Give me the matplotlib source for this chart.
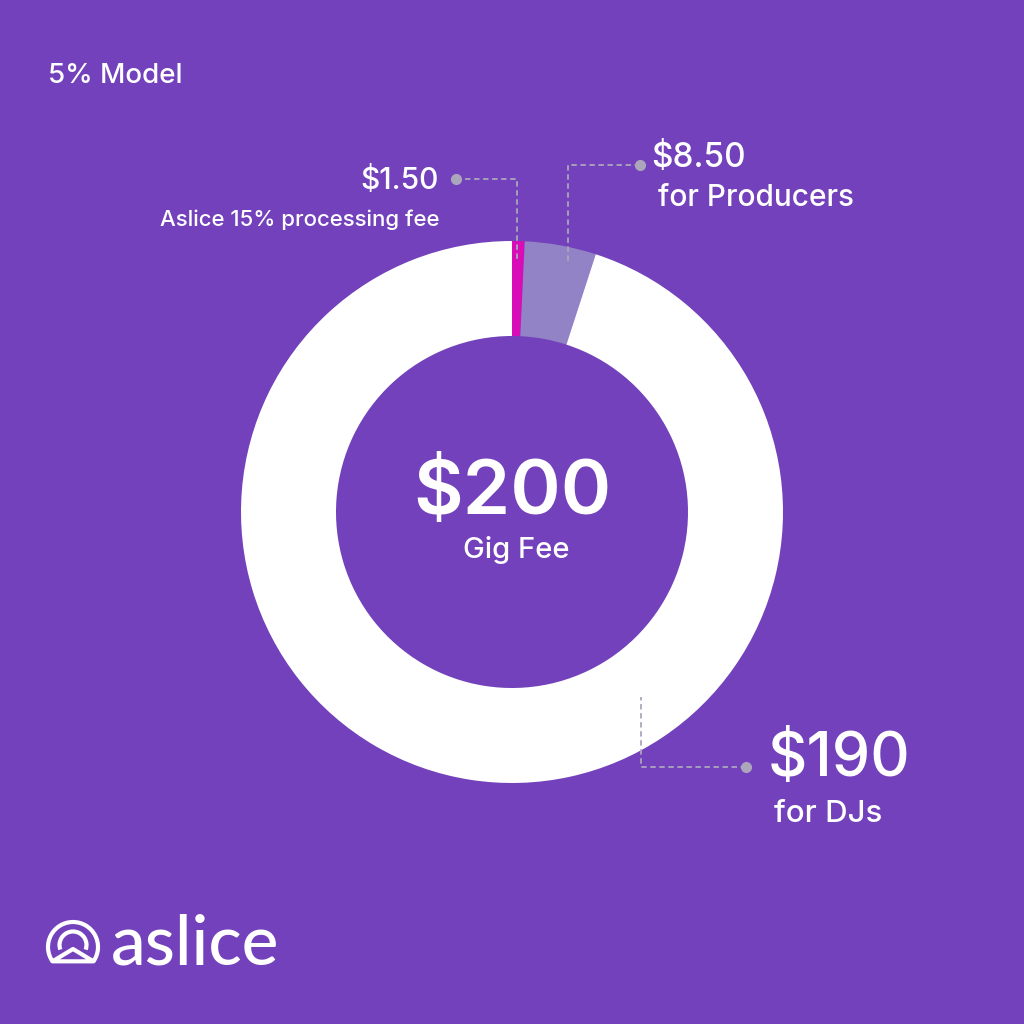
import numpy as np
import matplotlib.pyplot as plt
from matplotlib.patches import Arc, Polygon

# data
labels = ["Aslice 15% processing fee", "for Producers", "for DJs"]
amounts = [1.50, 8.50, 190.0]
amount_text = ["$1.50", "$8.50", "$190"]
total_text = "$200"
colors = ["#D80DB8", "#9282C6", "#FFFFFF"]

BG = "#7241BB"
LINE = "#ABA6BC"
FONT = ["Inter", "DejaVu Sans"]

fig = plt.figure(figsize=(10.24, 10.24), dpi=100, facecolor=BG)
ax = fig.add_axes([0, 0, 1, 1])
ax.set_facecolor(BG)

H = 1024
def Y(y):
    # picture rows -> data y (origin bottom)
    return H - y

ax.pie(amounts, colors=colors, startangle=90, counterclock=False,
       center=(512, Y(512)), radius=271,
       wedgeprops=dict(width=95, linewidth=0))
ax.set_xlim(0, 1024)
ax.set_ylim(0, 1024)
ax.set_aspect("equal")
ax.axis("off")

# leader lines (x path, y path, dot position)
leaders = [
    ([456, 517, 517], [179, 179, 262]),
    ([640, 568, 568], [165, 165, 262]),
    ([746, 641, 641], [767, 767, 697]),
]
for xs, ys in leaders:
    ax.plot(xs, [Y(v) for v in ys], color=LINE, lw=1.3, ls=(0, (3, 2)), zorder=3)
    ax.plot(xs[0], Y(ys[0]), "o", color=LINE, ms=7, zorder=4)

txt = dict(color="white", family=FONT)
ax.text(48, Y(76), "5% Model", fontsize=20, weight="medium", va="center", ha="left", **txt)

ax.text(439, Y(181), amount_text[0], fontsize=21.5, weight="medium", va="center", ha="right", **txt)
ax.text(440, Y(220), labels[0], fontsize=16, weight="medium", va="center", ha="right", **txt)

ax.text(651, Y(158), amount_text[1], fontsize=24, weight="medium", va="center", ha="left", **txt)
ax.text(658, Y(198), labels[1], fontsize=21.5, weight="medium", va="center", ha="left", **txt)

ax.text(768, Y(760), amount_text[2], fontsize=44, weight="medium", va="center", ha="left", **txt)
ax.text(774, Y(814), labels[2], fontsize=22.5, weight="medium", va="center", ha="left", **txt)

ax.text(512, Y(494), total_text, fontsize=55, weight="semibold", va="center", ha="center", **txt)
ax.text(516, Y(550), "Gig Fee", fontsize=21, weight="medium", va="center", ha="center", **txt)

# logo
cx, cy, r = 73, Y(947), 25
ax.add_patch(Arc((cx, cy), 2 * r, 2 * r, theta1=-35, theta2=215, color="white", lw=3))
ax.add_patch(Arc((cx, cy + 2), 27, 27, theta1=-20, theta2=200, color="white", lw=3))
ax.add_patch(Polygon([[cx - r * np.cos(np.radians(35)), cy - r * np.sin(np.radians(35))],
                      [cx, cy - 2],
                      [cx + r * np.cos(np.radians(35)), cy - r * np.sin(np.radians(35))]],
                     closed=True, fill=False, edgecolor="white", lw=3, joinstyle="round"))
ax.text(111, Y(945), "aslice", fontsize=50, weight="medium", va="center", ha="left",
        color="white", family=["Lato", "DejaVu Sans"])

fig.savefig("out.png", dpi=100, facecolor=BG)
